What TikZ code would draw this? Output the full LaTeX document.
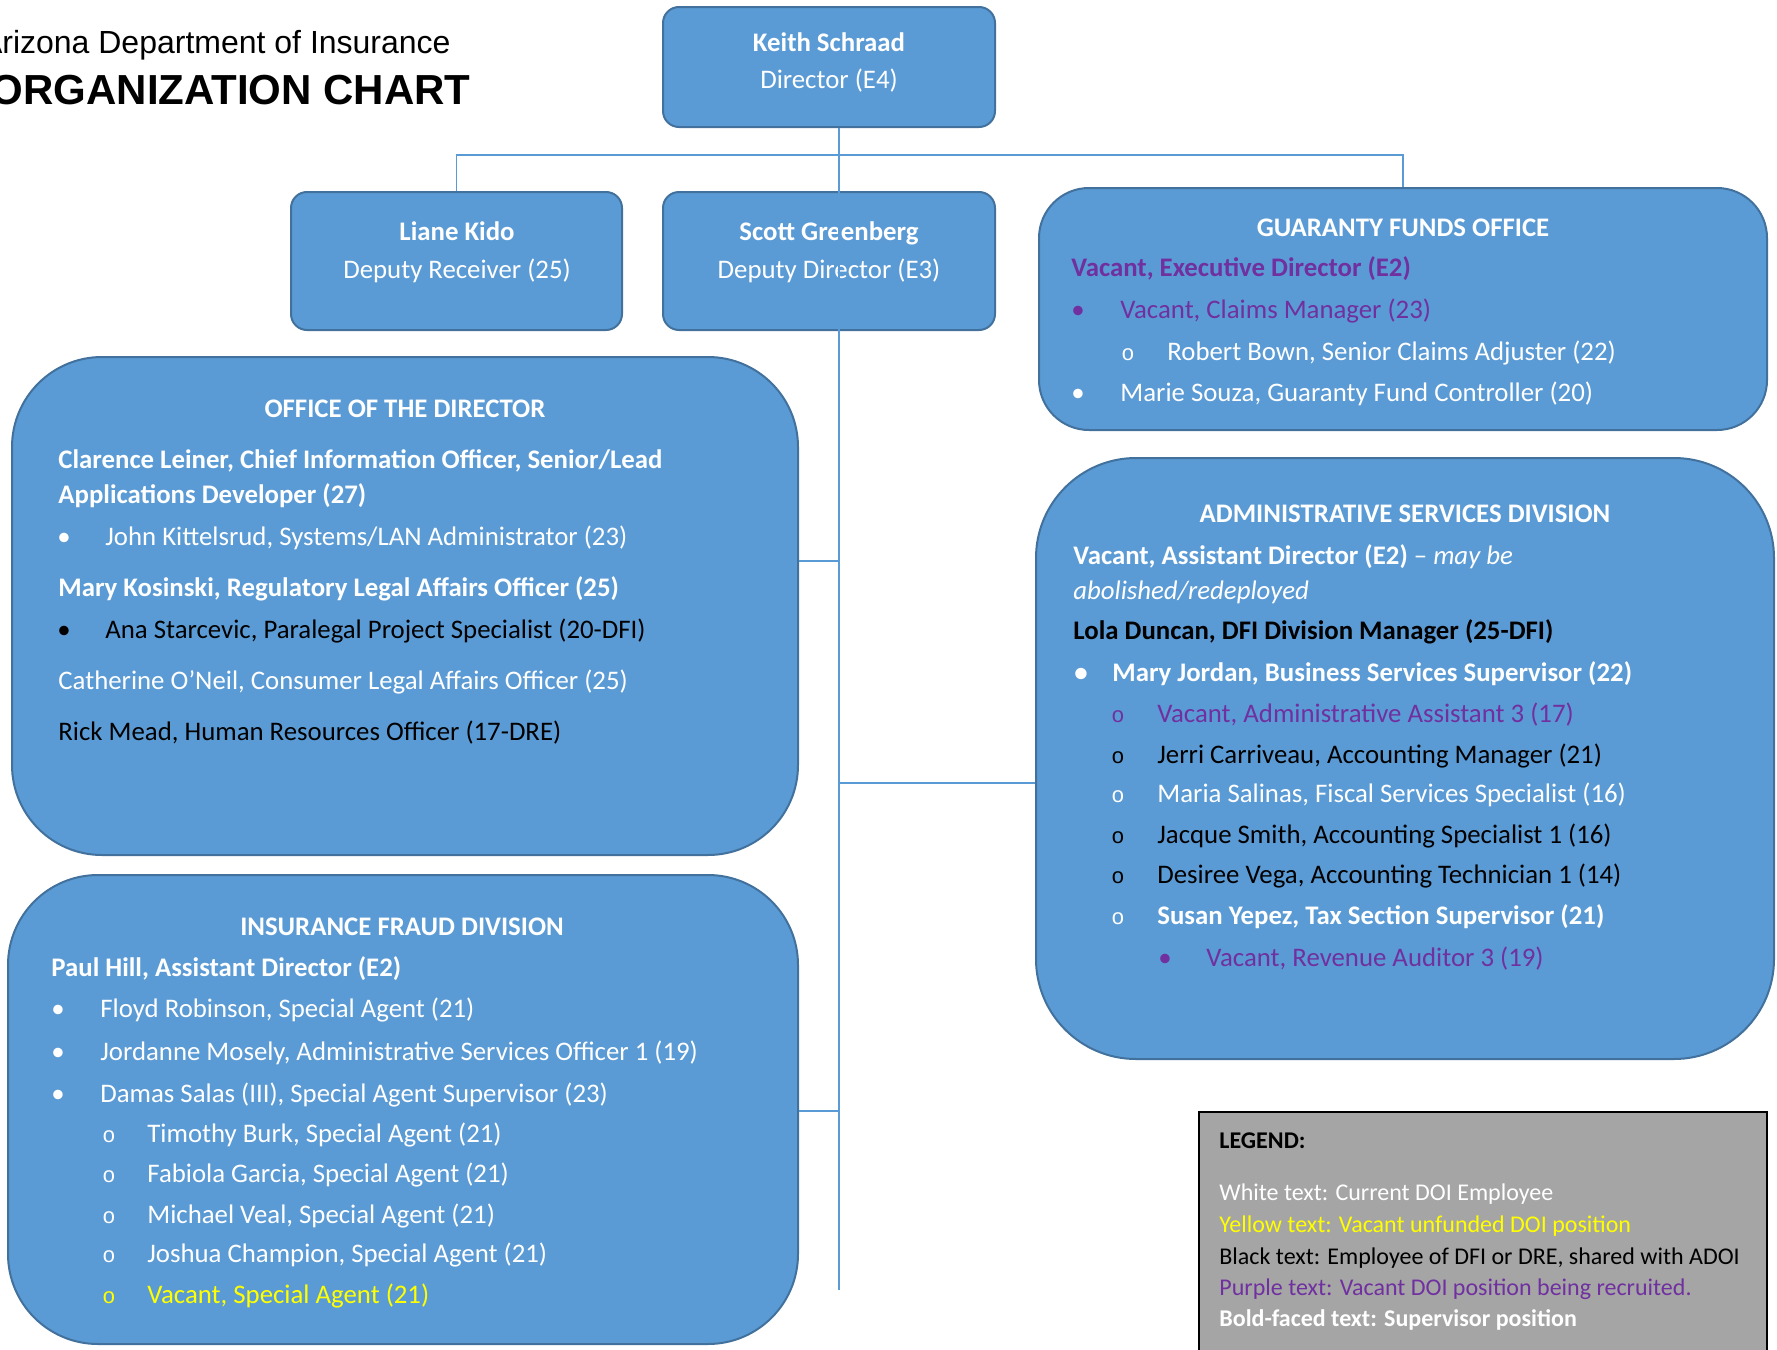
\documentclass[tikz,border=0pt]{standalone}
\usepackage{fontspec}
\setmainfont{Carlito}
\newfontfamily\arialfont{Liberation Sans}
\newfontfamily\ringfont{Liberation Mono}

\definecolor{boxblue}{HTML}{5B9BD5}
\definecolor{boxedge}{HTML}{41719C}
\definecolor{purp}{HTML}{7030A0}
\definecolor{yell}{HTML}{FFFF00}
\definecolor{legendgray}{HTML}{A5A5A5}

% bullet marks of the lists
\newcommand{\dotmark}[1][21.5pt]{\makebox[#1][l]{\hspace{-3pt}•}}
\newcommand{\ringmark}[1][20pt]{\makebox[#1][l]{\hspace{-3pt}{\ringfont\fontsize{11}{11}\selectfont o}}}

\tikzset{
  box/.style={draw=boxedge, line width=1pt, fill=boxblue, inner sep=0pt},
  link/.style={draw=boxblue, line width=0.8pt},
  txt/.style={text=white, inner sep=0pt, anchor=mid west, yshift=-2.5pt, font=\fontsize{13.4}{16}\selectfont},
  head/.style={text=white, inner sep=0pt, anchor=mid, yshift=-2.5pt, font=\fontsize{13.4}{16}\selectfont\bfseries},
  sub/.style={head, font=\fontsize{13.4}{16}\selectfont},
  legtxt/.style={txt, font=\fontsize{12}{14}\selectfont}
}

\begin{document}
\begin{tikzpicture}[x=0.5pt, y=-0.5pt]
  \useasboundingbox (0,0) rectangle (1777,1349);
  \clip (0,0) rectangle (1777,1349);

  % Title
  \node[anchor=base east, inner sep=0pt, font=\arialfont\fontsize{16}{19}\selectfont] (dept) at (451,53) {Arizona Department of Insurance};
  \node[anchor=base east, inner sep=0pt, font=\arialfont\bfseries\fontsize{21}{25}\selectfont] (chart) at (471,104) {ORGANIZATION CHART};

  % Boxes
  \node[box, rounded corners=8pt, minimum width=166pt, minimum height=60pt] (keith) at (829,67) {};
  \node[box, rounded corners=8pt, minimum width=165.5pt, minimum height=69pt] (liane) at (456.5,261) {};
  \node[box, rounded corners=8pt, minimum width=166pt, minimum height=69pt] (scott) at (829,261) {};
  \node[box, rounded corners=25pt, minimum width=364pt, minimum height=121pt] (gfo) at (1403,309) {};
  \node[box, rounded corners=45pt, minimum width=393pt, minimum height=249pt] (office) at (405,606) {};
  \node[box, rounded corners=50pt, minimum width=369pt, minimum height=300.5pt] (admin) at (1405,758.5) {};
  \node[box, rounded corners=45pt, minimum width=395pt, minimum height=234.5pt] (fraud) at (403,1109.5) {};
  \node[draw=black, line width=0.8pt, fill=legendgray, inner sep=0pt, minimum width=284pt, minimum height=130pt] (legend) at (1483,1242) {};

  % Small boxes
  \node[head] (keithname) at (829,42) {Keith Schraad};
  \node[sub] (keithjob) at (829,79) {Director (E4)};
  \node[head] (lianename) at (457,231) {Liane Kido};
  \node[sub] (lianejob) at (457,269) {Deputy Receiver (25)};
  \node[head] (scottname) at (829,231) {Scott Greenberg};
  \node[sub] (scottjob) at (829,269) {Deputy Director (E3)};

  % Guaranty funds office
  \node[head] (gfotitle) at (1403,227) {GUARANTY FUNDS OFFICE};
  \foreach \x/\y/\entry [count=\i] in {
    1071/267/{\color{purp}\bfseries Vacant, Executive Director (E2)},
    1077/309/{\color{purp}\dotmark Vacant, Claims Manager (23)},
    1127/351/{\ringmark Robert Bown, Senior Claims Adjuster (22)},
    1077/392/{\dotmark Marie Souza, Guaranty Fund Controller (20)}}
    \node[txt] (gf\i) at (\x,\y) {\entry};

  % Office of the director
  \node[head] (officetitle) at (405,408) {OFFICE OF THE DIRECTOR};
  \foreach \x/\y/\entry [count=\i] in {
    58/459/{\bfseries Clarence Leiner, Chief Information Officer, Senior/Lead},
    58/494/{\bfseries Applications Developer (27)},
    63/536/{\dotmark[21pt]John Kittelsrud, Systems/LAN Administrator (23)},
    58/587/{\bfseries Mary Kosinski, Regulatory Legal Affairs Officer (25)},
    63/629/{\color{black}\dotmark[21pt]Ana Starcevic, Paralegal Project Specialist (20-DFI)},
    58/680/{Catherine O’Neil, Consumer Legal Affairs Officer (25)},
    58/731/{\color{black}Rick Mead, Human Resources Officer (17-DRE)}}
    \node[txt] (od\i) at (\x,\y) {\entry};

  % Administrative services division
  \node[head] (admintitle) at (1405,513) {ADMINISTRATIVE SERVICES DIVISION};
  \foreach \x/\y/\entry [count=\i] in {
    1073/555/{{\bfseries Vacant, Assistant Director (E2)} – \textit{may be}},
    1073/590/{\itshape abolished/redeployed},
    1073/630/{\color{black}\bfseries Lola Duncan, DFI Division Manager (25-DFI)},
    1080/672/{\bfseries\dotmark[16pt]Mary Jordan, Business Services Supervisor (22)},
    1117/713/{\color{purp}\ringmark Vacant, Administrative Assistant 3 (17)},
    1117/754/{\color{black}\ringmark Jerri Carriveau, Accounting Manager (21)},
    1117/793/{\ringmark Maria Salinas, Fiscal Services Specialist (16)},
    1117/834/{\color{black}\ringmark Jacque Smith, Accounting Specialist 1 (16)},
    1117/874/{\color{black}\ringmark Desiree Vega, Accounting Technician 1 (14)},
    1117/915/{\ringmark\bfseries Susan Yepez, Tax Section Supervisor (21)},
    1164/957/{\color{purp}\dotmark[21pt]Vacant, Revenue Auditor 3 (19)}}
    \node[txt] (ad\i) at (\x,\y) {\entry};

  % Insurance fraud division
  \node[head] (fraudtitle) at (402,926) {INSURANCE FRAUD DIVISION};
  \foreach \x/\y/\entry [count=\i] in {
    51/967/{\bfseries Paul Hill, Assistant Director (E2)},
    57/1008/{\dotmark Floyd Robinson, Special Agent (21)},
    57/1051/{\dotmark Jordanne Mosely, Administrative Services Officer 1 (19)},
    57/1093/{\dotmark Damas Salas (III), Special Agent Supervisor (23)},
    108/1133/{\ringmark[19.5pt]Timothy Burk, Special Agent (21)},
    108/1173/{\ringmark[19.5pt]Fabiola Garcia, Special Agent (21)},
    108/1214/{\ringmark[19.5pt]Michael Veal, Special Agent (21)},
    108/1253/{\ringmark[19.5pt]Joshua Champion, Special Agent (21)},
    108/1294/{\color{yell}\ringmark[19.5pt]Vacant, Special Agent (21)}}
    \node[txt] (fd\i) at (\x,\y) {\entry};

  % Legend
  \foreach \y/\entry [count=\i] in {
    1139/{\color{black}\bfseries LEGEND:},
    1191/{White text: Current DOI Employee},
    1223/{\color{yell}Yellow text: Vacant unfunded DOI position},
    1255/{\color{black}Black text: Employee of DFI or DRE, shared with ADOI},
    1286/{\color{purp}Purple text: Vacant DOI position being recruited.},
    1317/{\bfseries Bold-faced text: Supervisor position}}
    \node[legtxt] (lg\i) at (1219,\y) {\entry};

  % Connectors
  \coordinate (bus) at (839,155);
  \coordinate (j1) at (839,561);
  \coordinate (j2) at (839,783);
  \coordinate (j3) at (839,1111);
  \coordinate (trunkend) at (839,1290);
  \draw[link] (keith.south -| bus) -- (trunkend);
  \draw[link] (liane.north) -- (liane.north |- bus) -- (gfo.north |- bus) -- (gfo.north);
  \draw[link] (office.east |- j1) -- (j1);
  \draw[link] (j2) -- (admin.west |- j2);
  \draw[link] (fraud.east |- j3) -- (j3);
\end{tikzpicture}
\end{document}
